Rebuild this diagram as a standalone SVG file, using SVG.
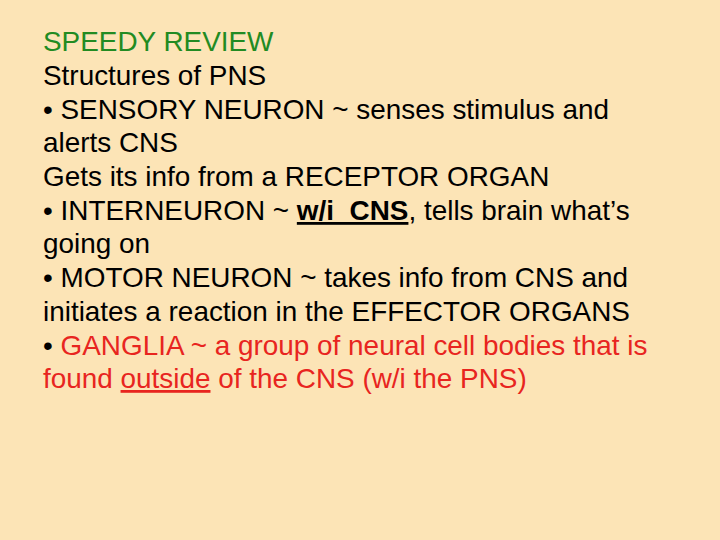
<svg xmlns="http://www.w3.org/2000/svg" width="720" height="540" viewBox="0 0 720 540">
<style>
text{font-family:"Liberation Sans",Arial,sans-serif;font-size:27.9px;fill:#000}
.g{fill:#228B22}.r{fill:#E8251F}
</style>
<rect width="720" height="540" fill="#FCE4B6"/>
<g id="body">
<text x="43" y="51" class="g">SPEEDY REVIEW</text>
<text x="43" y="85">Structures of PNS</text>
<text x="43" y="119">• SENSORY NEURON ~ senses stimulus and</text>
<text x="43" y="152">alerts CNS</text>
<text x="43" y="186">Gets its info from a RECEPTOR ORGAN</text>
<text x="43" y="220">• INTERNEURON ~ <tspan font-weight="bold" text-decoration="underline">w/i &#160;CNS</tspan>, tells brain what’s</text>
<text x="43" y="253">going on</text>
<text x="43" y="287">• MOTOR NEURON ~ takes info from CNS and</text>
<text x="43" y="321">initiates a reaction in the EFFECTOR ORGANS</text>
<text x="43" y="355">• <tspan class="r">GANGLIA ~ a group of neural cell bodies that is</tspan></text>
<text x="43" y="388" class="r">found <tspan text-decoration="underline">outside</tspan> of the CNS (w/i the PNS)</text>
</g>
</svg>
